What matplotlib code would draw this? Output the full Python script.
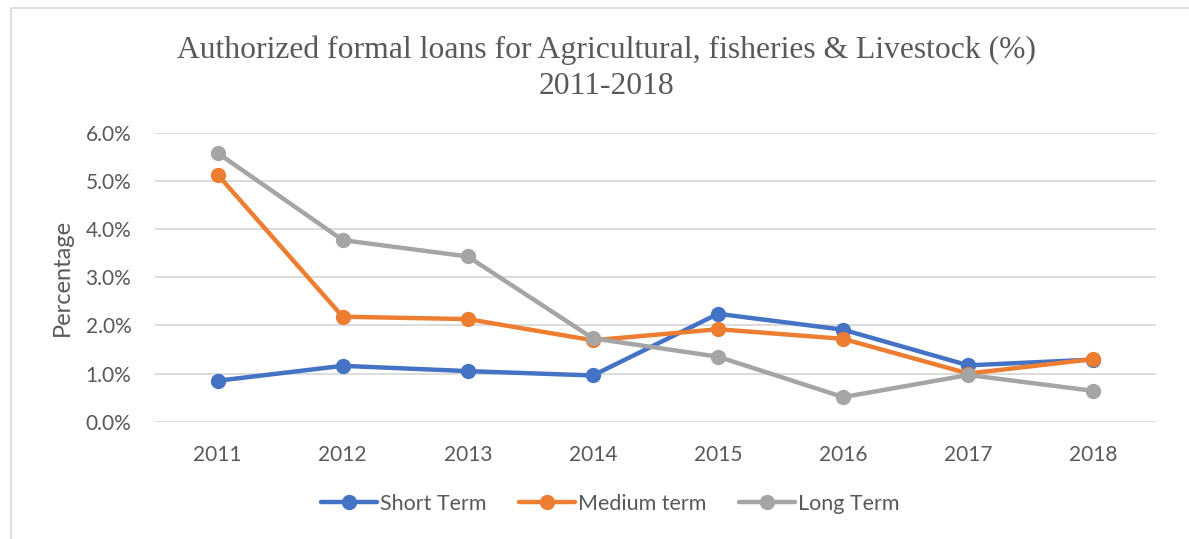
import numpy as np
import matplotlib.pyplot as plt
from matplotlib.patches import Rectangle
from matplotlib.ticker import FuncFormatter

years = ["2011", "2012", "2013", "2014", "2015", "2016", "2017", "2018"]
short_term = [0.85, 1.16, 1.05, 0.96, 2.24, 1.91, 1.17, 1.29]
medium_term = [5.13, 2.18, 2.13, 1.69, 1.92, 1.72, 1.00, 1.30]
long_term = [5.58, 3.77, 3.43, 1.73, 1.35, 0.51, 0.97, 0.64]

series = [("Short Term", short_term, "#4472C4"),
          ("Medium term", medium_term, "#ED7D31"),
          ("Long Term", long_term, "#A5A5A5")]

txt = "#595959"
plt.rcParams['font.family'] = ['Lato', 'DejaVu Sans']

fig = plt.figure(figsize=(11.89, 5.39), dpi=100)
ax = fig.add_axes([155 / 1189, 1 - 421.7 / 539, 1001 / 1189, 289 / 539])

# chart frame
fig.patches.append(Rectangle((11 / 1189, -0.05), 1.2, 1 - 8 / 539 + 0.05,
                             transform=fig.transFigure, fill=False,
                             edgecolor="#D9D9D9", linewidth=1.2))

x = np.arange(len(years))
for name, vals, col in series:
    ax.plot(x, np.array(vals) / 100, color=col, linewidth=3.2, marker="o",
            markersize=10, label=name, solid_capstyle="round")

ax.set_xlim(-0.5, len(years) - 0.5)
ax.set_ylim(0, 0.06)
ax.set_yticks(np.arange(0, 0.061, 0.01))
ax.yaxis.set_major_formatter(FuncFormatter(lambda v, p: f"{v * 100:.1f}%"))
ax.set_xticks(x)
ax.set_xticklabels(years)
ax.tick_params(length=0, labelsize=15, colors=txt)
ax.tick_params(axis="x", pad=17)
ax.tick_params(axis="y", pad=17)
ax.grid(axis="y", color="#D9D9D9", linewidth=1.3)
ax.set_axisbelow(True)
for s in ax.spines.values():
    s.set_visible(False)

ax.set_ylabel("Percentage", fontsize=17, color=txt, labelpad=9)

title_font = ["Liberation Serif", "DejaVu Serif"]
fig.text(0.51, 1 - 50 / 539, "Authorized formal loans for Agricultural, fisheries & Livestock (%)",
         ha="center", va="center", fontsize=22.8, color=txt, family=title_font)
fig.text(0.51, 1 - 87 / 539, "2011-2018", ha="center", va="center", fontsize=22.8,
         color=txt, family=title_font)

fig.legend(loc="center", bbox_to_anchor=(0.513, 1 - 504 / 539), ncol=3,
           frameon=False, fontsize=15.5, labelcolor=txt, handlelength=2.6,
           handletextpad=0.15, columnspacing=1.5)

fig.savefig("out.png", dpi=100)
